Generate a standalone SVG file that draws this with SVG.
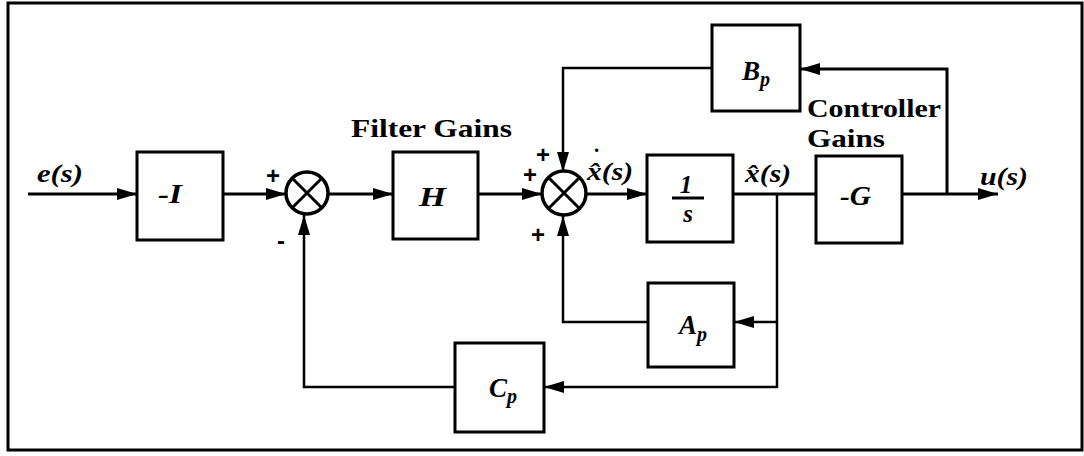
<svg xmlns="http://www.w3.org/2000/svg" width="1084" height="456" viewBox="0 0 1084 456">
<style>
.box{fill:#fff;stroke:#000;stroke-width:3}
.sum{fill:#fff;stroke:#000;stroke-width:3.5}
.x{stroke:#000;stroke-width:3}
.w{fill:none;stroke:#000;stroke-width:3}
.f{fill:none;stroke:#000;stroke-width:2.5}
.m{font-family:"Liberation Serif",serif;font-weight:bold;font-style:italic;fill:#000}
.t{font-family:"Liberation Serif",serif;font-weight:bold;fill:#000}
.s{font-family:"Liberation Sans",sans-serif;font-weight:bold;fill:#000;font-size:24px;text-anchor:middle}
</style>
<defs>
<marker id="ah" markerUnits="userSpaceOnUse" markerWidth="20" markerHeight="14" refX="20" refY="7" orient="auto">
<path d="M0,1 L20,7 L0,13 z" fill="#000"/>
</marker>
</defs>
<rect x="0" y="0" width="1084" height="456" fill="#fff"/>
<rect x="8" y="3" width="1074" height="447" fill="none" stroke="#000" stroke-width="3"/>

<g id="connectors">
<line class="w" x1="28" y1="194" x2="137" y2="194" marker-end="url(#ah)"/>
<line class="w" x1="223" y1="194" x2="286" y2="194" marker-end="url(#ah)"/>
<line class="w" x1="328" y1="194" x2="393" y2="194" marker-end="url(#ah)"/>
<line class="w" x1="478" y1="194" x2="542" y2="194" marker-end="url(#ah)"/>
<line class="w" x1="586" y1="194" x2="647" y2="194" marker-end="url(#ah)"/>
<line class="w" x1="733" y1="194" x2="816" y2="194"/>
<line class="w" x1="902" y1="194" x2="998" y2="194" marker-end="url(#ah)"/>
<polyline class="w" points="947,194 947,69 800,69" marker-end="url(#ah)"/>
<polyline class="f" points="712,68 563,68 563,172" marker-end="url(#ah)"/>
<polyline class="f" points="777,194 777,387 544,387" marker-end="url(#ah)"/>
<polyline class="f" points="777,322 734,322" marker-end="url(#ah)"/>
<polyline class="f" points="648,322 563,322 563,216" marker-end="url(#ah)"/>
<polyline class="f" points="455,387 304,387 304,215" marker-end="url(#ah)"/>
</g>

<g id="input-label"><text class="m" x="37" y="182" font-size="25" textLength="46" lengthAdjust="spacingAndGlyphs">e(s)</text></g>

<g id="neg-I">
<rect class="box" x="137" y="152" width="86" height="88"/>
<text class="m" x="158" y="203" font-size="28" textLength="24" lengthAdjust="spacingAndGlyphs">-I</text>
</g>

<g id="sum1">
<circle class="sum" cx="307" cy="193" r="21"/>
<line class="x" x1="292" y1="178" x2="322" y2="208"/>
<line class="x" x1="322" y1="178" x2="292" y2="208"/>
<text class="s" x="273" y="184">+</text>
<text class="s" x="281" y="249">-</text>
</g>

<g id="H">
<text class="t" x="351" y="137" font-size="25" textLength="161" lengthAdjust="spacingAndGlyphs">Filter Gains</text>
<rect class="box" x="393" y="152" width="85" height="87"/>
<text class="m" x="419" y="206" font-size="28" textLength="27" lengthAdjust="spacingAndGlyphs">H</text>
</g>

<g id="sum2">
<circle class="sum" cx="564" cy="193" r="22"/>
<line class="x" x1="548.5" y1="177.5" x2="579.5" y2="208.5"/>
<line class="x" x1="579.5" y1="177.5" x2="548.5" y2="208.5"/>
<text class="s" x="543" y="163">+</text>
<text class="s" x="530" y="183">+</text>
<text class="s" x="538" y="243">+</text>
<text class="m" x="587" y="180" font-size="26" textLength="46" lengthAdjust="spacingAndGlyphs">x̂(s)</text>
<text class="t" x="594" y="152" font-size="21">.</text>
</g>

<g id="integrator">
<rect class="box" x="647" y="155" width="86" height="87"/>
<text class="m" x="686" y="193" font-size="25" text-anchor="middle">1</text>
<line class="x" x1="672" y1="198" x2="704" y2="198"/>
<text class="m" x="688" y="222" font-size="25" text-anchor="middle">s</text>
<text class="m" x="745" y="182" font-size="26" textLength="46" lengthAdjust="spacingAndGlyphs">x̂(s)</text>
</g>

<g id="neg-G">
<text class="t" x="807" y="117" font-size="25" textLength="134" lengthAdjust="spacingAndGlyphs">Controller</text>
<text class="t" x="807" y="147" font-size="25" textLength="78" lengthAdjust="spacingAndGlyphs">Gains</text>
<rect class="box" x="816" y="156" width="86" height="87"/>
<text class="m" x="840" y="205" font-size="27" textLength="31" lengthAdjust="spacingAndGlyphs">-G</text>
<text class="m" x="980" y="185" font-size="25" textLength="48" lengthAdjust="spacingAndGlyphs">u(s)</text>
</g>

<g id="Bp">
<rect class="box" x="712" y="25" width="88" height="86"/>
<text class="m" x="742" y="80" font-size="27">B<tspan font-size="20" dy="6">p</tspan></text>
</g>

<g id="Ap">
<rect class="box" x="648" y="283" width="86" height="84"/>
<text class="m" x="679" y="334" font-size="27">A<tspan font-size="20" dy="7">p</tspan></text>
</g>

<g id="Cp">
<rect class="box" x="455" y="343" width="89" height="89"/>
<text class="m" x="489" y="397" font-size="27">C<tspan font-size="20" dy="6">p</tspan></text>
</g>
</svg>
